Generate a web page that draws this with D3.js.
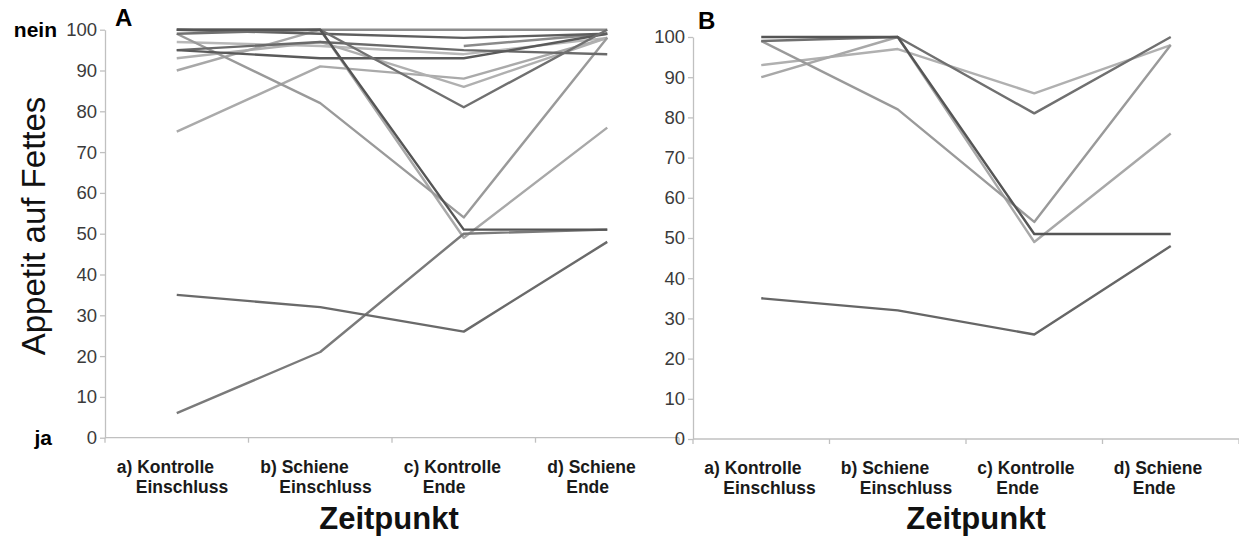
<!DOCTYPE html>
<html><head><meta charset="utf-8">
<script src="https://cdn.jsdelivr.net/npm/d3@7"></script>
<style>
body{margin:0;background:#fff;}
svg{display:block;font-family:"Liberation Sans",Arial,sans-serif;}
</style></head>
<body><svg id="c" width="1239" height="539"></svg>
<script>
// ---- data ----
const categories = ["a) Kontrolle|Einschluss","b) Schiene|Einschluss","c) Kontrolle|Ende","d) Schiene|Ende"];
const yTicks = [0,10,20,30,40,50,60,70,80,90,100];
// subjects (values at a, b, c, d)
const s01 = [100,100,100,100];
const s02 = [100,100,51,51];
const s03 = [99,100,81,100];
const s04 = [99,82,54,98];
const s05 = [90,100,49,76];
const s06 = [93,97,86,98];
const s07 = [35,32,26,48];
const s08 = [6,21,50,51];
const s09 = [75,91,88,98];
const s10 = [95,93,93,99];
const s11 = [95,97,95,94];
const s12 = [97,96,94,98];
const s13 = [null,null,96,99];
const s14 = [100,99,98,99];
const panelASeries = [s12,s09,s06,s05,s04,s13,s01,s08,s07,s11,s10,s14,s03,s02];
const panelBSeries = [s06,s05,s04,s07,s03,s02];
// styles
const colorsA = ["#b8b8b8","#aaaaaa","#b0b0b0","#a8a8a8","#9a9a9a","#8a8a8a","#8c8c8c","#7a7a7a","#6a6a6a","#6a6a6a","#5a5a5a","#5e5e5e","#707070","#555555"];
const colorsB = ["#b0b0b0","#a8a8a8","#9a9a9a","#666666","#707070","#555555"];

const svg = d3.select("#c");

function panel(opt){
  const x = d3.scaleBand().domain(categories).range([opt.x0,opt.x1]).padding(0);
  const y = d3.scaleLinear().domain([0,100]).range([opt.yb,opt.yt]);
  const g = svg.append("g");
  // y axis
  const ya = g.append("g").attr("transform",`translate(${opt.x0},0)`)
    .call(d3.axisLeft(y).tickValues(yTicks).tickSize(5).tickPadding(3).tickSizeOuter(0));
  ya.select(".domain").attr("stroke","#c0c0c0").attr("stroke-width",1.3);
  ya.selectAll(".tick line").attr("stroke","#c0c0c0").attr("stroke-width",1.3);
  ya.selectAll(".tick text").attr("font-size",18.5).attr("fill","#3a3a3a").attr("font-family","Liberation Sans, Arial, sans-serif");
  // x axis line and ticks at band edges
  const edges = categories.map(c=>x(c)).concat([opt.x1]);
  g.append("line").attr("x1",opt.x0).attr("x2",opt.x1).attr("y1",y(0)).attr("y2",y(0))
    .attr("stroke","#c0c0c0").attr("stroke-width",1.3);
  g.selectAll(".xt").data(edges).join("line").attr("x1",d=>d).attr("x2",d=>d)
    .attr("y1",y(0)).attr("y2",y(0)+5).attr("stroke","#c0c0c0").attr("stroke-width",1.3);
  // x labels
  categories.forEach(c=>{
    const [l1,l2] = c.split("|");
    const cx = x(c)+x.bandwidth()/2;
    const t = g.append("text").attr("font-size",17.5).attr("font-weight","bold").attr("fill","#1a1a1a");
    t.append("tspan").attr("x",cx-opt.lblOff).attr("y",y(0)+35).text(l1);
    t.append("tspan").attr("x",cx-opt.lblOff+opt.indent).attr("y",y(0)+55).text(l2);
  });
  // lines
  const line = d3.line().defined(d=>d.v!=null).x(d=>x(d.c)+x.bandwidth()/2).y(d=>y(d.v));
  g.selectAll(".ln").data(opt.series).join("path")
    .attr("d",s=>line(s.map((v,i)=>({c:categories[i],v}))))
    .attr("fill","none").attr("stroke",(s,i)=>opt.colors[i]).attr("stroke-width",2.4)
    .attr("stroke-linejoin","round");
  // titles
  g.append("text").attr("x",opt.px).attr("y",opt.py).attr("font-size",24).attr("font-weight","bold").text(opt.label);
  g.append("text").attr("x",opt.tx).attr("y",529).attr("text-anchor","middle")
    .attr("font-size",31).attr("font-weight","bold").attr("fill","#111").text("Zeitpunkt");
  return {x,y};
}

const A = panel({x0:105,x1:679,yb:437.7,yt:29.7,series:panelASeries,colors:colorsA,label:"A",px:115,py:26,lblOff:60,indent:19,tx:389});
panel({x0:693,x1:1239,yb:439,yt:37,series:panelBSeries,colors:colorsB,label:"B",px:698,py:29,lblOff:57,indent:19,tx:976});

svg.append("text").attr("x",57).attr("y",A.y(100)+7).attr("text-anchor","end")
  .attr("font-size",21).attr("font-weight","bold").text("nein");
svg.append("text").attr("x",52).attr("y",A.y(0)+7).attr("text-anchor","end")
  .attr("font-size",21).attr("font-weight","bold").text("ja");
svg.append("text").attr("transform","translate(45,226) rotate(-90)").attr("text-anchor","middle")
  .attr("font-size",33).attr("fill","#111").text("Appetit auf Fettes");
</script></body></html>
